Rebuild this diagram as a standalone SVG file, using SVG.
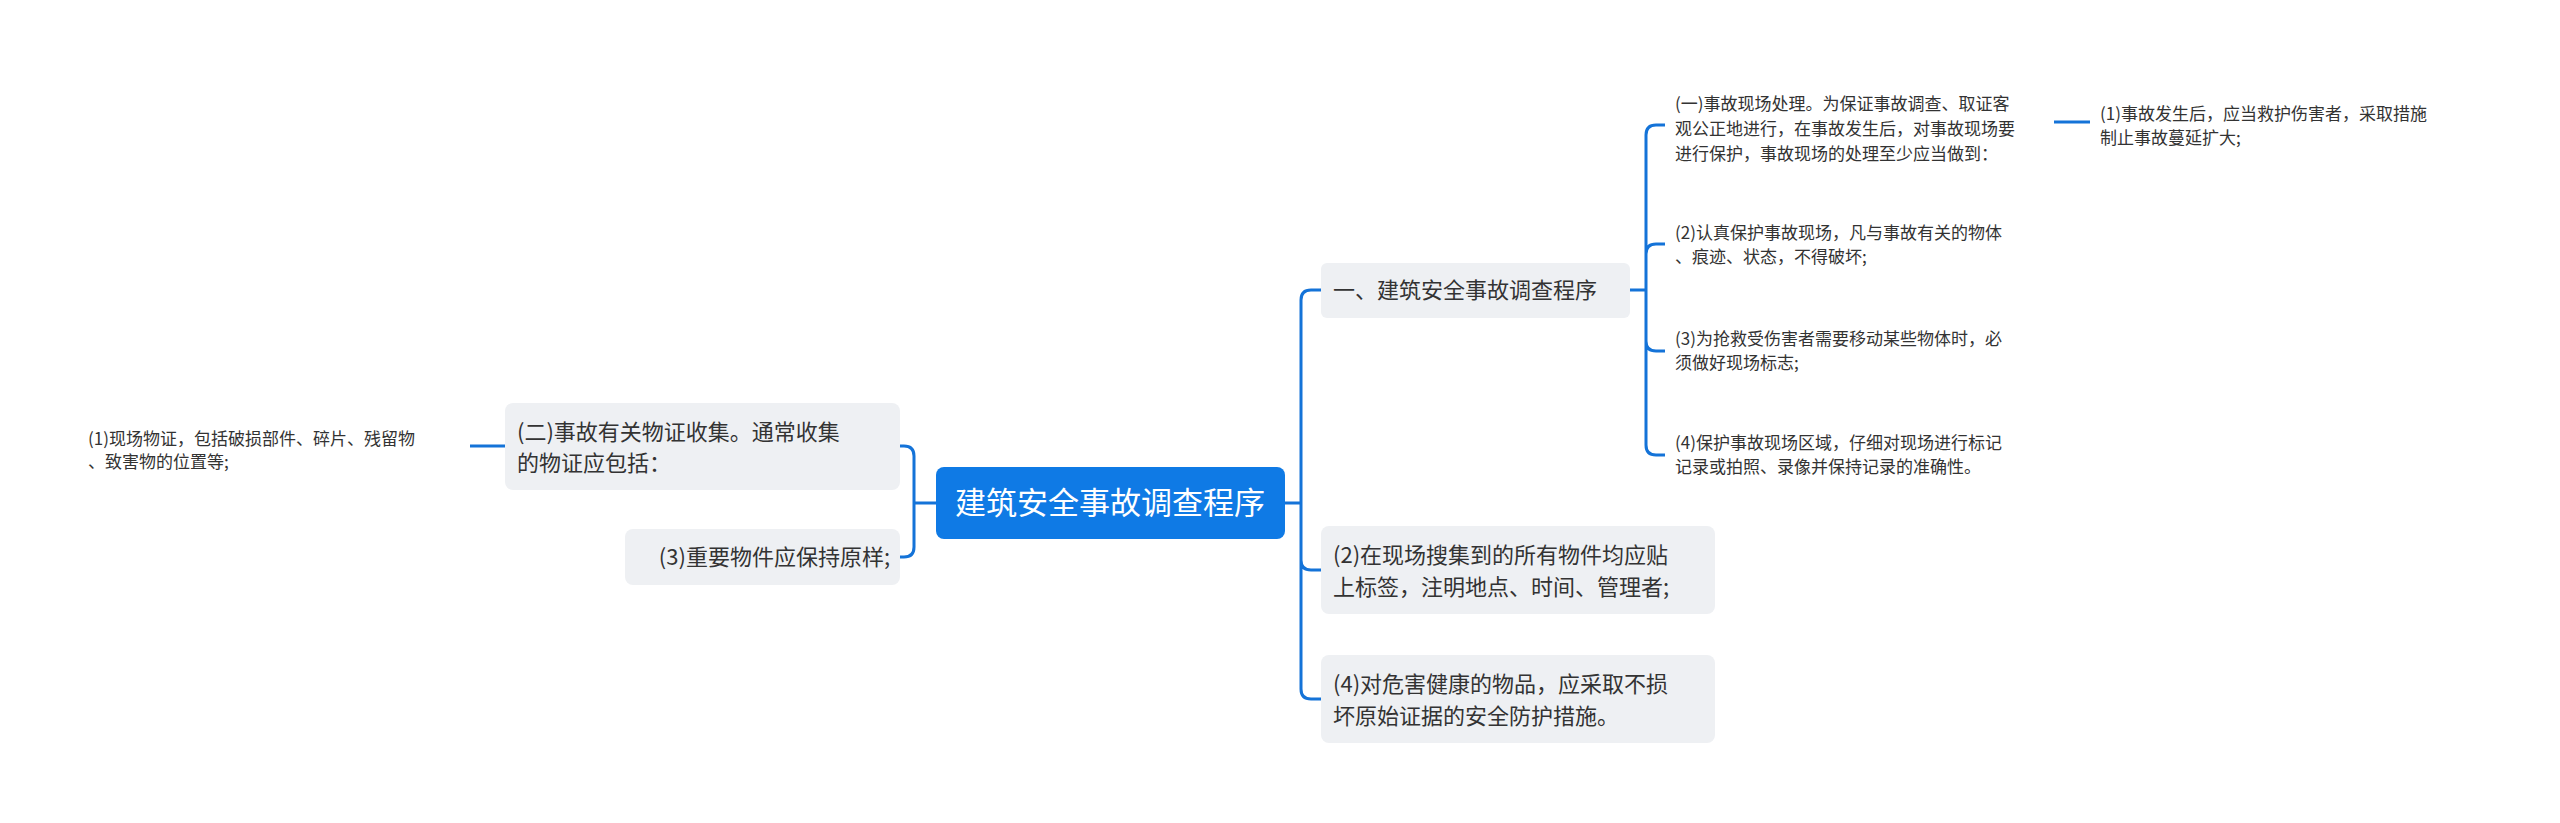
<svg xmlns="http://www.w3.org/2000/svg" width="2560" height="823" viewBox="0 0 2560 823">
<style>
text{font-family:"Noto Sans CJK SC","Noto Sans",sans-serif;fill:#333}
.n{fill:#eef0f3}
.m{font-size:22px}
.s{font-size:17px}
.c path{fill:none;stroke:#1473d8;stroke-width:3}
</style>
<rect width="2560" height="823" fill="#fff"/>
<g class="c">
<path d="M1285,503 H1301 M1301,503 V300 Q1301,290 1311,290 H1321 M1301,503 V560 Q1301,570 1311,570 H1321 M1301,503 V689 Q1301,699 1311,699 H1321"/>
<path d="M936,503 H914 M914,503 V456 Q914,446 904,446 H900 M914,503 V547 Q914,557 904,557 H900"/>
<path d="M1630,290 H1646 M1646,290 V135 Q1646,125 1656,125 H1665 M1646,290 V254 Q1646,244 1656,244 H1665 M1646,290 V341 Q1646,351 1656,351 H1665 M1646,290 V445 Q1646,455 1656,455 H1665"/>
<path d="M2054,122 H2090"/>
<path d="M470,446 H505"/>
</g>
<g id="root"><rect x="936" y="467" width="349" height="72" rx="8" fill="#0f7ae5"/><text x="1110" y="514" font-size="31" text-anchor="middle" style="fill:#fff">建筑安全事故调查程序</text></g>
<g id="n1"><rect class="n" x="1321" y="263" width="309" height="55" rx="6"/><text class="m" x="1333" y="298">一、建筑安全事故调查程序</text></g>
<g id="n11"><text class="s" x="1675" y="110">(一)事故现场处理。为保证事故调查、取证客</text><text class="s" x="1675" y="135">观公正地进行，在事故发生后，对事故现场要</text><text class="s" x="1675" y="160">进行保护，事故现场的处理至少应当做到：</text></g>
<g id="n111"><text class="s" x="2100" y="120">(1)事故发生后，应当救护伤害者，采取措施</text><text class="s" x="2100" y="144">制止事故蔓延扩大;</text></g>
<g id="n12"><text class="s" x="1675" y="239">(2)认真保护事故现场，凡与事故有关的物体</text><text class="s" x="1675" y="263">、痕迹、状态，不得破坏;</text></g>
<g id="n13"><text class="s" x="1675" y="345">(3)为抢救受伤害者需要移动某些物体时，必</text><text class="s" x="1675" y="369">须做好现场标志;</text></g>
<g id="n14"><text class="s" x="1675" y="449">(4)保护事故现场区域，仔细对现场进行标记</text><text class="s" x="1675" y="473">记录或拍照、录像并保持记录的准确性。</text></g>
<g id="n2"><rect class="n" x="1321" y="526" width="394" height="88" rx="8"/><text class="m" x="1333" y="563">(2)在现场搜集到的所有物件均应贴</text><text class="m" x="1333" y="595">上标签，注明地点、时间、管理者;</text></g>
<g id="n4"><rect class="n" x="1321" y="655" width="394" height="88" rx="8"/><text class="m" x="1333" y="692">(4)对危害健康的物品，应采取不损</text><text class="m" x="1333" y="724">坏原始证据的安全防护措施。</text></g>
<g id="l1"><rect class="n" x="505" y="403" width="395" height="87" rx="8"/><text class="m" x="517" y="440">(二)事故有关物证收集。通常收集</text><text class="m" x="517" y="471">的物证应包括：</text></g>
<g id="l11"><text class="s" x="88" y="445">(1)现场物证，包括破损部件、碎片、残留物</text><text class="s" x="88" y="468">、致害物的位置等;</text></g>
<g id="l2"><rect class="n" x="625" y="529" width="275" height="56" rx="8"/><text class="m" x="890" y="565" text-anchor="end">(3)重要物件应保持原样;</text></g>
</svg>
